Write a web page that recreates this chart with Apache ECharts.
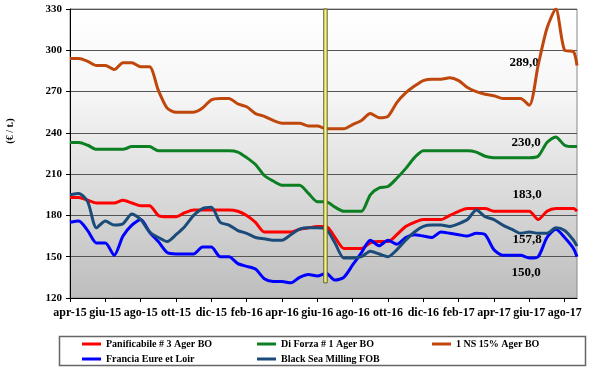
<!DOCTYPE html>
<html>
<head>
<meta charset="utf-8">
<script src="https://cdn.jsdelivr.net/npm/echarts@6/dist/echarts.min.js"></script>
<style>
html,body{margin:0;padding:0;background:#fff;}
#chart{width:600px;height:367px;}
</style>
</head>
<body>
<div id="chart"></div>
<script>
// x positions in months from apr-15 (half-month steps, last point mid-sept 2017)
const months = Array.from({length: 58}, (_, i) => i * 0.5).concat([28.7]);
const tickLabels = ['apr-15','giu-15','ago-15','ott-15','dic-15','feb-16','apr-16','giu-16','ago-16','ott-16','dic-16','feb-17','apr-17','giu-17','ago-17'];
const yTicks = [120,150,180,210,240,270,300,330];

const seriesNames = ['Panificabile # 3 Ager BO','Di Forza # 1 Ager BO','1 NS 15% Ager BO','Francia Eure et Loir','Black Sea Milling FOB'];

const panificabile = [193,193,191,189,189,189,191,189,187,187,
  180,179,179,182,184,184,184,184,184,183,
  180,175,168,168,168,168,170,171,172,172,
  164,156,156,156,160,161,161,166,172,175,
  177,177,177,180,183,185,185,185,183,183,
  183,183,183,177,183,185,185,185,183];
const diForza = [233,233,231,228,228,228,228,230,230,230,
  227,227,227,227,227,227,227,227,227,226,
  222,217,209,205,202,202,202,196,190,190,
  186,183,183,183,195,200,201,207,214,222,
  227,227,227,227,227,227,226,223,222,222,
  222,222,222,223,233,237,231,230,230];
const ns15 = [294,294,292,289,289,286,291,291,288,288,
  271,258,255,255,255,258,264,265,265,261,
  259,254,252,249,247,247,247,245,245,243,
  243,243,246,249,254,251,252,262,269,274,
  278,279,279,280,278,273,270,268,267,265,
  265,265,260,289,316,330,300,299,289];
const francia = [175,176,169,160,160,151,165,173,177,168,
  161,153,152,152,152,157,157,150,150,145,
  143,141,134,132,132,131,135,137,136,138,
  133,135,144,153,162,158,162,159,164,166,
  165,164,168,167,166,165,167,166,155,151,
  151,151,149,150,164,170,164,156,150];
const blackSea = [195,196,190,171,176,173,174,181,177,168,
  164,161,166,172,180,185,186,175,173,169,
  167,164,163,162,162,166,170,171,171,170,
  160,149,149,150,154,152,150,155,162,168,
  172,173,173,172,174,177,184,179,177,173,
  170,167,168,167,167,171,169,162,157.8];

const colors = ['#ff0000','#0c7f22','#c0470c','#0000ff','#1b4b78'];
const labelOffsets = [[-50,-17],[-51,-4],[-53,-3],[-51,16],[-50,-6]];

// vertical marker (month position, low, high)
const markerMonth = 14.45, markerLow = 131, markerHigh = 330;

const font = 'Liberation Serif';
const allData = [panificabile, diForza, ns15, francia, blackSea];

const chart = echarts.init(document.getElementById('chart'), null, {renderer: 'canvas'});

const series = allData.map((arr, k) => {
  const last = arr.length - 1;
  return {
    name: seriesNames[k],
    type: 'line',
    data: arr.map((v, i) => [months[i], v]),
    showSymbol: false,
    smooth: 0.25,
    lineStyle: {color: colors[k], width: 3},
    itemStyle: {color: colors[k]},
    z: 3 + k,
    markPoint: {
      symbol: 'circle', symbolSize: 0,
      data: [{coord: [months[last], arr[last]], value: arr[last]}],
      label: {show: true, position: 'inside', offset: labelOffsets[k],
        formatter: p => p.value.toFixed(1).replace('.', ','),
        color: '#000', fontFamily: font, fontWeight: 'bold', fontSize: 13},
      animation: false
    }
  };
});

series.push({
  type: 'custom',
  z: 20,
  data: [[markerMonth, markerLow, markerHigh]],
  encode: {x: 0, y: [1, 2]},
  renderItem: (params, api) => {
    const top = api.coord([api.value(0), api.value(2)]);
    const bot = api.coord([api.value(0), api.value(1)]);
    return {type: 'rect', shape: {x: top[0] - 1.5, y: top[1], width: 3.4, height: bot[1] - top[1]},
      style: {fill: '#f4f48a', stroke: '#5e5e1a', lineWidth: 1}};
  }
});

const legendCommon = {
  orient: 'vertical', icon: 'rect', itemWidth: 19, itemHeight: 3, itemGap: 3, padding: 0,
  textStyle: {fontFamily: font, fontWeight: 'bold', fontSize: 10, color: '#000', lineHeight: 12},
  selectedMode: false
};

chart.setOption({
  animation: false,
  backgroundColor: '#fff',
  color: colors,
  grid: {left: 70, right: 23, top: 9, bottom: 69, show: true, borderColor: '#888', borderWidth: 1,
    backgroundColor: new echarts.graphic.LinearGradient(0, 0, 0, 1, [
      {offset: 0, color: '#ffffff'}, {offset: 0.3, color: '#f6f6f6'}, {offset: 1, color: '#bdbdbd'}])},
  xAxis: {
    type: 'value', min: 0, max: 28.7, interval: 2,
    axisLine: {lineStyle: {color: '#000', width: 1}},
    axisTick: {show: true, length: 4, lineStyle: {color: '#000'}, customValues: tickLabels.map((_, i) => i * 2)},
    axisLabel: {customValues: tickLabels.map((_, i) => i * 2), formatter: v => tickLabels[Math.round(v / 2)],
      fontFamily: font, fontWeight: 'bold', fontSize: 12, color: '#000', margin: 9},
    splitLine: {show: false}
  },
  yAxis: {
    type: 'value', min: 120, max: 330, interval: 30,
    axisLine: {show: true, lineStyle: {color: '#000', width: 1}},
    axisTick: {show: true, length: 4, lineStyle: {color: '#000'}},
    axisLabel: {fontFamily: font, fontWeight: 'bold', fontSize: 11, color: '#000', margin: 8},
    splitLine: {show: true, lineStyle: {color: '#555', width: 1}}
  },
  legend: [
    Object.assign({}, legendCommon, {left: 82, top: 338, data: [seriesNames[0], seriesNames[3]]}),
    Object.assign({}, legendCommon, {left: 257, top: 338, data: [seriesNames[1], seriesNames[4]]}),
    Object.assign({}, legendCommon, {left: 432, top: 338, data: [seriesNames[2]]})
  ],
  graphic: [
    {type: 'rect', z: -1, shape: {x: 59.5, y: 336.5, width: 526, height: 29},
      style: {fill: '#fff', stroke: '#666', lineWidth: 1.5}},
    {type: 'text', x: 10, y: 131, rotation: Math.PI / 2,
      style: {text: '(€ / t.)', fill: '#000', font: 'bold 10px "Liberation Serif"', align: 'center', verticalAlign: 'middle'}}
  ],
  series: series
});
</script>
</body>
</html>
